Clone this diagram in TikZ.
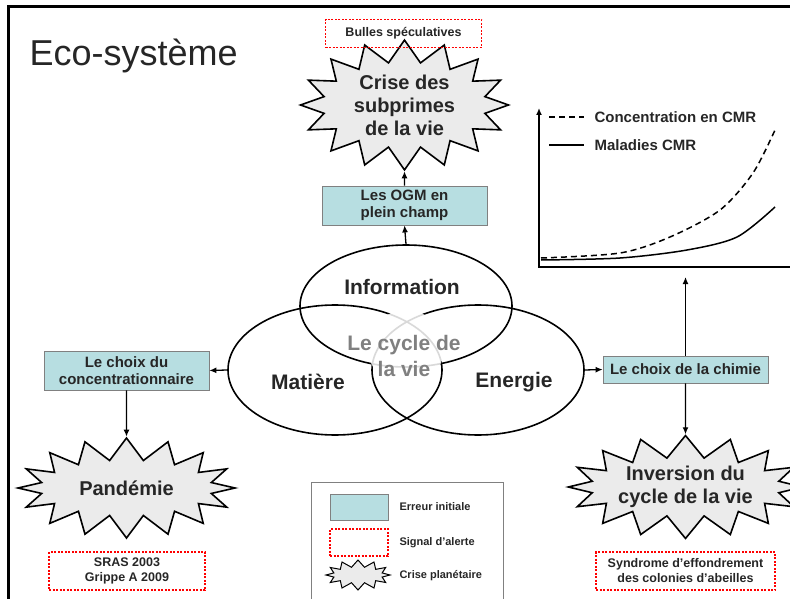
\documentclass[tikz,border=0pt]{standalone}
\usepackage{fontspec}
\setmainfont{Liberation Sans}
\usetikzlibrary{positioning,shapes.symbols,shapes.geometric,arrows.meta}
\definecolor{erreurfill}{HTML}{B7DEE1}
\definecolor{crisefill}{HTML}{EBEBEB}
\definecolor{texte}{HTML}{262626}

\begin{document}
\begin{tikzpicture}[x=1pt, y=-1pt, >={Latex[length=7pt,width=6pt]},
    erreurnode/.style={rectangle, draw=gray, fill=erreurfill, line width=0.8pt, align=center, inner sep=1pt, text=texte, font=\bfseries\fontsize{15}{17}\selectfont},
    alertenode/.style={rectangle, draw=red, dash pattern=on 2pt off 1.5pt, line width=1.6pt, align=center, inner sep=1pt, text=texte, font=\bfseries\fontsize{12.5}{15}\selectfont},
    crisenode/.style={starburst, starburst points=16, starburst point height=22pt, random starburst=0, draw, fill=crisefill, line width=1.6pt, inner sep=0pt, align=center, text=texte, font=\bfseries\fontsize{20}{23}\selectfont},
    vennnode/.style={ellipse, draw, line width=1.6pt, inner sep=0pt},
    venntext/.style={text=texte, align=center, font=\bfseries\fontsize{21}{26}\selectfont},
    legendtext/.style={anchor=west, text=texte, font=\bfseries\fontsize{11}{13}\selectfont},
]
    \useasboundingbox (0,0) rectangle (790,599);

    %Frame and title
    \draw[line width=3pt] (8,600) -- (8,7) -- (790,7);
    \node[anchor=base west, text=texte, font=\fontsize{36}{42}\selectfont] (titre) at (26,66) {Eco-système};

    %Venn
    \node[vennnode, minimum width=212pt, minimum height=122pt] (information) at (406,306) {};
    \node[vennnode, minimum width=214pt, minimum height=130pt] (matiere) at (335,370) {};
    \node[vennnode, minimum width=212pt, minimum height=130pt] (energie) at (478,370) {};
    \fill[white, opacity=0.85] (406,348) circle (38);
    \node[venntext] (infotext) at (402,287) {Information};
    \node[venntext] (matieretext) at (308,382) {Matière};
    \node[venntext] (energietext) at (514,382) {Energie};
    \node[venntext, text=gray] (cycle) at (404,356) {Le cycle de\\la vie};

    %Top branch
    \node[erreurnode, minimum width=165pt, minimum height=39pt] (ogm) at (404.5,205.5) {Les OGM en\\plein champ};
    \node[crisenode, minimum width=208pt, minimum height=106pt] (subprimes) at (404.5,105) {Crise des\\subprimes\\de la vie};
    \node[alertenode, minimum width=156pt, minimum height=28pt] (bulles) at (403.5,33.5) {Bulles spéculatives};

    %Left branch
    \node[erreurnode, minimum width=165pt, minimum height=39pt] (choixconc) at (126.5,370.5) {Le choix du\\concentrationnaire};
    \node[crisenode, minimum width=217pt, minimum height=100pt] (pandemie) at (126.5,488) {Pandémie};
    \node[alertenode, minimum width=156pt, minimum height=38pt] (sras) at (127,571) {SRAS 2003\\Grippe A 2009};

    %Right branch
    \node[erreurnode, minimum width=165pt, minimum height=27pt] (chimie) at (685.5,369.5) {Le choix de la chimie};
    \node[crisenode, minimum width=215pt, minimum height=100pt] (inversion) at (685.5,487) {Inversion du\\cycle de la vie};
    \node[alertenode, minimum width=179pt, minimum height=38pt] (syndrome) at (685.5,571) {Syndrome d'effondrement\\des colonies d'abeilles};

    %Chart
    \draw[line width=1.6pt, <-] (539,108) -- (539,267) -- (790,267);
    \coordinate (graphe) at (685.5,277);
    \draw[dash pattern=on 6pt off 4pt, line width=1.5pt] (549,117) -- (584,117);
    \draw[line width=1.5pt] (549,145) -- (584,145);
    \node[anchor=west, text=texte, font=\bfseries\fontsize{15}{17}\selectfont] (concentration) at (591,117) {Concentration en CMR};
    \node[anchor=west, text=texte, font=\bfseries\fontsize{15}{17}\selectfont] (maladies) at (591,145) {Maladies CMR};
    \draw[dash pattern=on 6pt off 4pt, line width=1.5pt] plot[smooth] coordinates {(541,258) (620,253) (670,237) (720,210) (753,173) (775,130)};
    \draw[line width=1.5pt] plot[smooth] coordinates {(541,260) (620,258) (687,250) (737,237) (775,207)};

    %Legend
    \draw[gray, line width=0.8pt] (311,600) -- (311,482) -- (503,482) -- (503,600);
    \node[erreurnode, minimum width=58pt, minimum height=26pt] (legerreur) at (359,507) {};
    \node[alertenode, minimum width=58pt, minimum height=27pt] (legalerte) at (359,542.5) {};
    \node[crisenode, starburst points=12, starburst point height=7pt, line width=1pt, minimum width=64pt, minimum height=30pt] (legcrise) at (358,575) {};
    \node[legendtext] (legerreurtext) at (396,507) {Erreur initiale};
    \node[legendtext] (legalertetext) at (396,542.5) {Signal d'alerte};
    \node[legendtext] (legcrisetext) at (396,576) {Crise planétaire};

    %Lines
    \draw[line width=1.3pt, ->] (information.north) -- (ogm.south);
    \draw[line width=1.3pt, ->] (ogm.north) -- (subprimes.south);
    \draw[line width=1.3pt, ->] (matiere.west) -- (choixconc.east);
    \draw[line width=1.3pt, ->] (choixconc.south) -- (pandemie.north);
    \draw[line width=1.3pt, ->] (energie.east) -- (chimie.west);
    \draw[line width=1.3pt, ->] (chimie.south) -- (inversion.north);
    \draw[line width=1.3pt, ->] (chimie.north) -- (graphe);
\end{tikzpicture}
\end{document}
